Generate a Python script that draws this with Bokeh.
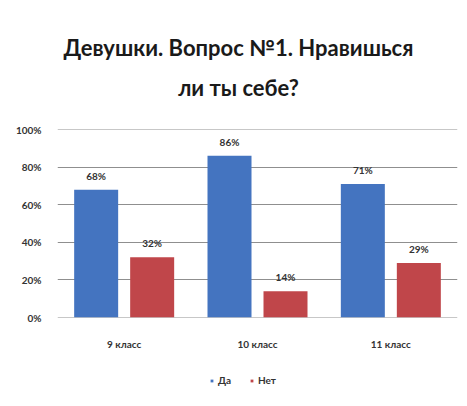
from bokeh.plotting import figure
from bokeh.models import ColumnDataSource, FactorRange, Label, Legend, LegendItem, NumeralTickFormatter, FixedTicker
from bokeh.transform import dodge
from bokeh.layouts import column
from bokeh.embed import file_html
from bokeh.resources import INLINE

categories = ["9 класс", "10 класс", "11 класс"]
da = [0.68, 0.86, 0.71]
net = [0.32, 0.14, 0.29]
da_labels = ["68%", "86%", "71%"]
net_labels = ["32%", "14%", "29%"]
series_names = ["Да", "Нет"]
title_lines = ["Девушки. Вопрос №1. Нравишься", "ли ты себе?"]
y_ticks = [0, 0.2, 0.4, 0.6, 0.8, 1.0]

BLUE = "#4474c0"
RED = "#c0464a"
FONT = "Lato"
W = 459
LB, RB = 57, 2

# ---- title block (frame spans page pixels LB..W-RB)
tf = figure(width=W, height=116, output_backend="svg", toolbar_location=None,
            x_range=(LB, W - RB), y_range=(116, 0),
            min_border_left=LB, min_border_right=RB, min_border_top=0, min_border_bottom=0)
tf.axis.visible = False
tf.grid.visible = False
tf.outline_line_color = None
for txt, yy in zip(title_lines, [47, 87]):
    tf.add_layout(Label(x=238, y=yy, text=txt, text_align="center", text_baseline="middle",
                        text_font=FONT, text_font_size="22px", text_font_style="bold",
                        text_color="#1a1a1a"))

# ---- main chart
src = ColumnDataSource(dict(cat=categories, da=da, net=net, dal=da_labels, netl=net_labels))

p = figure(x_range=FactorRange(*categories, range_padding=0), y_range=(0, 1.0),
           width=W, height=241, output_backend="svg", toolbar_location=None,
           min_border_left=LB, min_border_right=RB, min_border_top=13, min_border_bottom=40)
p.outline_line_color = None
p.border_fill_color = "white"

p.hspan(y=y_ticks, line_color="#8f8f8f", line_width=1, level="underlay")

r1 = p.vbar(x=dodge("cat", -0.21, range=p.x_range), top="da", width=0.33, source=src,
            fill_color=BLUE, line_color=None)
r2 = p.vbar(x=dodge("cat", 0.21, range=p.x_range), top="net", width=0.33, source=src,
            fill_color=RED, line_color=None)

p.text(x=dodge("cat", -0.21, range=p.x_range), y="da", text="dal", source=src,
       text_align="center", text_baseline="bottom", y_offset=-8,
       text_font=dict(value=FONT), text_font_size="10px", text_font_style="bold", text_color="#333333")
p.text(x=dodge("cat", 0.21, range=p.x_range), y="net", text="netl", source=src,
       text_align="center", text_baseline="bottom", y_offset=-8,
       text_font=dict(value=FONT), text_font_size="10px", text_font_style="bold", text_color="#333333")

p.yaxis.ticker = FixedTicker(ticks=y_ticks)
p.yaxis.formatter = NumeralTickFormatter(format="0%")
for ax in (p.xaxis[0], p.yaxis[0]):
    ax.axis_line_color = None
    ax.major_tick_line_color = None
    ax.minor_tick_line_color = None
    ax.major_label_text_font = FONT
    ax.major_label_text_font_size = "10px"
    ax.major_label_text_font_style = "bold"
    ax.major_label_text_color = "#333333"
p.yaxis.major_label_standoff = 10
p.xaxis.major_label_standoff = 14
p.xgrid.grid_line_color = None
p.ygrid.grid_line_color = None

# ---- legend block
lg = figure(width=W, height=46, output_backend="svg", toolbar_location=None,
            x_range=(0, 1), y_range=(0, 1),
            min_border_left=LB, min_border_right=RB, min_border_top=0, min_border_bottom=0)
lg.axis.visible = False
lg.grid.visible = False
lg.outline_line_color = None
d1 = lg.scatter(x=[-5], y=[-5], marker="square", size=7, fill_color=BLUE, line_color=None)
d2 = lg.scatter(x=[-5], y=[-5], marker="square", size=7, fill_color=RED, line_color=None)
legend = Legend(items=[LegendItem(label=series_names[0], renderers=[d1]),
                       LegendItem(label=series_names[1], renderers=[d2])],
                orientation="horizontal", location=(151, 17),
                label_text_font=FONT, label_text_font_size="10px", label_text_font_style="bold",
                label_text_color="#333333", glyph_width=7, glyph_height=7, spacing=10,
                label_standoff=3, border_line_color=None, padding=0, margin=0,
                background_fill_alpha=0)
lg.add_layout(legend, "center")

layout = column(tf, p, lg, spacing=0)
open("out.html", "w").write(file_html(layout, INLINE))
